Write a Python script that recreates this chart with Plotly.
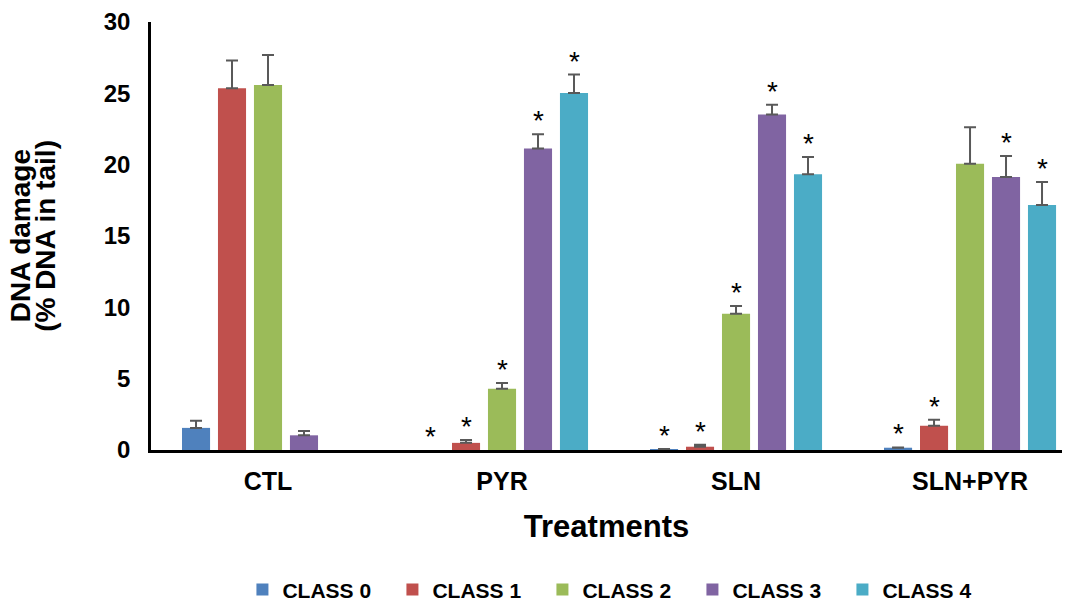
import plotly.graph_objects as go

treatments = ["CTL", "PYR", "SLN", "SLN+PYR"]
classes = ["CLASS 0", "CLASS 1", "CLASS 2", "CLASS 3", "CLASS 4"]

# None = no measurable damage (value 0, no bar drawn)
class0 = [1.55, None, 0.05, 0.16]
class1 = [25.35, 0.5, 0.23, 1.70]
class2 = [25.58, 4.3, 9.55, 20.06]
class3 = [1.03, 21.14, 23.52, 19.13]
class4 = [None, 25.02, 19.32, 17.17]

err0 = [0.5, 0.0, 0.02, 0.02]
err1 = [1.95, 0.2, 0.14, 0.42]
err2 = [2.1, 0.4, 0.54, 2.57]
err3 = [0.3, 1.0, 0.68, 1.47]
err4 = [0.0, 1.3, 1.21, 1.61]

# significance markers (1 = asterisk)
sig0 = [0, 1, 1, 1]
sig1 = [0, 1, 1, 1]
sig2 = [0, 1, 1, 0]
sig3 = [0, 1, 1, 1]
sig4 = [0, 1, 1, 1]

y_title_lines = ["DNA damage", "(% DNA in tail)"]

colors = ["#4F81BD", "#C0504D", "#9BBB59", "#8064A2", "#4BACC6"]

values = [class0, class1, class2, class3, class4]
errors = [err0, err1, err2, err3, err4]
sigs = [sig0, sig1, sig2, sig3, sig4]

STEP = 0.1538
BAR_W = 0.12
FONT = "Liberation Sans, Arial"

fig = go.Figure()
for i, name in enumerate(classes):
    xs = [j + (i - 2) * STEP for j in range(len(treatments))]
    fig.add_trace(go.Bar(
        x=xs, y=values[i], width=BAR_W, name=name,
        marker=dict(color=colors[i], line=dict(width=0)),
        error_y=dict(type="data", array=errors[i], symmetric=False, arrayminus=[0] * 4,
                     visible=True, color="#595959", thickness=2, width=6),
    ))

annotations = []
for i in range(len(classes)):
    for j in range(len(treatments)):
        if sigs[i][j]:
            annotations.append(dict(
                x=j + (i - 2) * STEP, y=(values[i][j] or 0) + errors[i][j],
                xref="x", yref="y", text="*", showarrow=False,
                yanchor="bottom", yshift=-4,
                font=dict(family=FONT, size=28, color="black"),
            ))

for k, line in enumerate(y_title_lines):
    annotations.append(dict(
        x=[-0.1435, -0.1165][k], y=0.5, xref="paper", yref="paper",
        text=line, showarrow=False, textangle=-90,
        xanchor="center", yanchor="middle",
        font=dict(family=FONT, size=28, color="black", weight="bold"),
    ))

fig.update_layout(
    width=1078, height=603,
    margin=dict(l=151, r=16, t=22, b=153, autoexpand=False),
    plot_bgcolor="white", paper_bgcolor="white",
    showlegend=True,
    annotations=annotations,
    legend=dict(orientation="h", x=0.512, xanchor="center", y=-0.327, yanchor="middle",
                font=dict(family=FONT, size=21, color="black", weight="bold"),
                entrywidth=105, itemwidth=30, traceorder="normal"),
    xaxis=dict(
        range=[-0.5, 3.393], tickmode="array", tickvals=list(range(len(treatments))),
        ticktext=treatments, showgrid=False, zeroline=False, automargin=False,
        showline=True, linecolor="black", linewidth=2.5, ticks="",
        tickfont=dict(family=FONT, size=25, color="black", weight="bold"),
        ticklabelstandoff=7,
        title=dict(text="Treatments", standoff=22,
                   font=dict(family=FONT, size=31, color="black", weight="bold")),
    ),
    yaxis=dict(
        range=[0, 30], dtick=5, showgrid=False, zeroline=False, automargin=False,
        showline=True, linecolor="black", linewidth=2.5, ticks="",
        tickfont=dict(family=FONT, size=24, color="black", weight="bold"),
        ticklabelstandoff=13,
    ),
)

fig.write_html("out.html", config={"displayModeBar": False},
               post_script="document.body.style.margin='0';")
